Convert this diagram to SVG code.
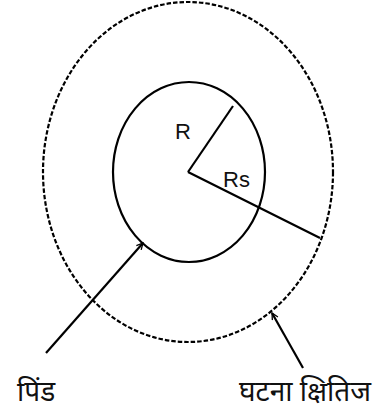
<svg xmlns="http://www.w3.org/2000/svg" width="387" height="411" viewBox="0 0 387 411">
<defs>
<marker id="arr" viewBox="0 0 10 10" refX="9" refY="5" markerWidth="8" markerHeight="8" markerUnits="userSpaceOnUse" orient="auto">
<path d="M1,1 L9,5 L1,9" fill="none" stroke="#000" stroke-width="1.6"/>
</marker>
<style>
.s{fill:none;stroke:#000;stroke-width:2.2}
.d{fill:none;stroke:#000;stroke-width:2.2;stroke-dasharray:4.5 2}
.t{font-family:"Liberation Sans",Arial,sans-serif;font-size:22px;fill:#111}
.h{font-family:"Noto Sans","Noto Sans Devanagari",sans-serif;font-size:28px;fill:#111}
</style>
</defs>
<rect width="387" height="411" fill="#fff"/>
<g id="horizon"><ellipse class="d" cx="188" cy="172" rx="145" ry="170"/></g>
<g id="body"><ellipse class="s" cx="189" cy="172" rx="76" ry="90"/></g>
<g id="radii">
<line class="s" x1="188" y1="172" x2="233" y2="106"/>
<line class="s" x1="188" y1="172" x2="320" y2="238"/>
</g>
<g id="connectors">
<line class="s" x1="46" y1="353" x2="143" y2="243" marker-end="url(#arr)"/>
<line class="s" x1="303" y1="368" x2="272" y2="313" marker-end="url(#arr)"/>
</g>
<g id="labels">
<text class="t" x="175" y="139">R</text>
<text class="t" x="223" y="187">Rs</text>
<text class="h" x="17" y="401">पिंड</text>
<text class="h" x="239" y="401">घटना क्षितिज</text>
</g>
</svg>
